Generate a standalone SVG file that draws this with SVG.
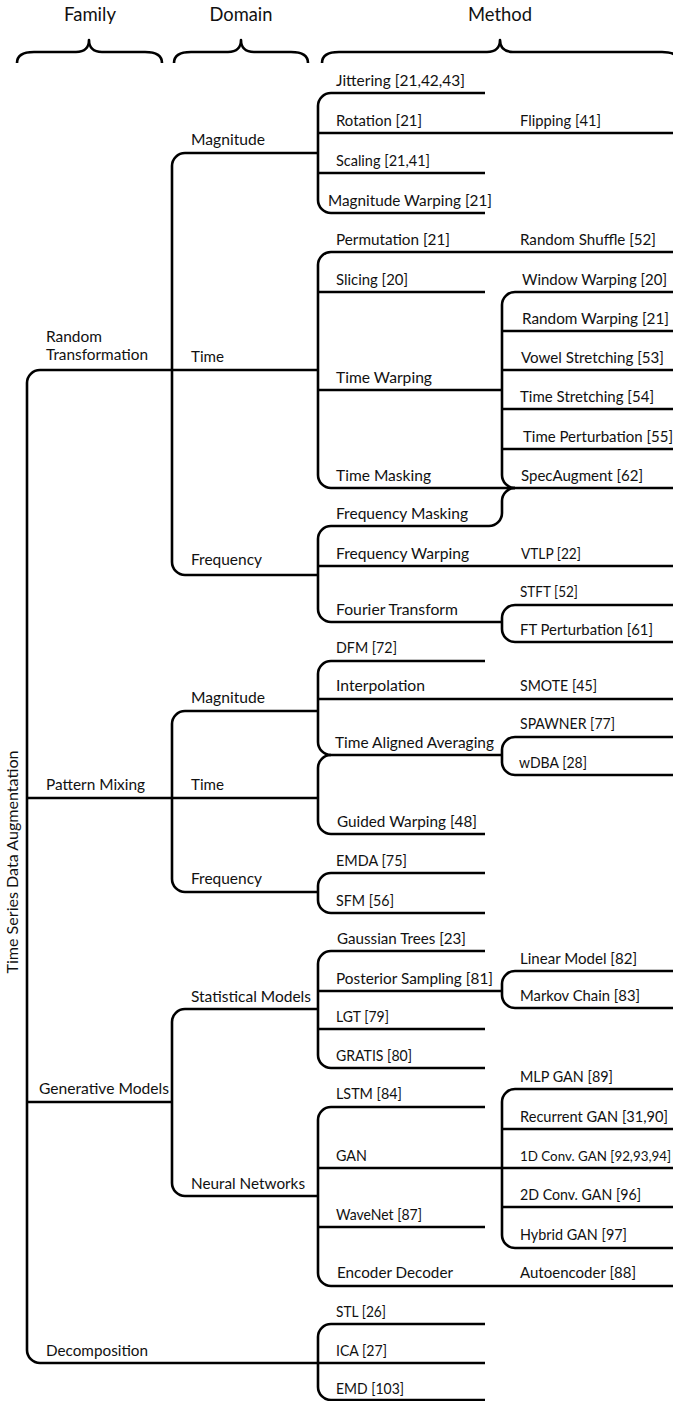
<svg xmlns="http://www.w3.org/2000/svg" width="673" height="1401" viewBox="0 0 673 1401">
<style>
text{font-family:Lato,"Liberation Sans",sans-serif;fill:#111}
.t{font-size:15px}
.h{font-size:18.5px;text-anchor:middle}
.c{fill:none;stroke:#000;stroke-width:2.6;stroke-linecap:butt;stroke-linejoin:round}
</style>
<rect width="673" height="1401" fill="#fff"/>
<g id="headers">
<text class="h" x="90" y="21" textLength="52" lengthAdjust="spacingAndGlyphs">Family</text>
<text class="h" x="241" y="21" textLength="63" lengthAdjust="spacingAndGlyphs">Domain</text>
<text class="h" x="500" y="21" textLength="64" lengthAdjust="spacingAndGlyphs">Method</text>
<path class="c" d="M17,63 C17,55 24,52 34,52 L76,52 C85,52 89,47 89,40 C89,47 93,52 102,52 L145,52 C155,52 162,55 162,63"/>
<path class="c" d="M174,63 C174,55 181,52 191,52 L228,52 C237,52 241,47 241,40 C241,47 245,52 254,52 L291,52 C301,52 308,55 308,63"/>
<path class="c" d="M322,63 C322,55 329,52 339,52 L487,52 C496,52 500,47 500,40 C500,47 504,52 513,52 L662,52 C672,52 679,55 679,63"/>
</g>
<g id="connectors">
<path class="c" d="M318,370 L40,370 A13,13 0 0 0 27,383 L27,1350 A13,13 0 0 0 40,1363 L485,1363"/>
<path class="c" d="M27,798 L318,798"/>
<path class="c" d="M27,1102 L172,1102"/>
<path class="c" d="M318,153 L185,153 A13,13 0 0 0 172,166 L172,562 A13,13 0 0 0 185,575 L318,575"/>
<path class="c" d="M318,711 L185,711 A13,13 0 0 0 172,724 L172,879 A13,13 0 0 0 185,892 L318,892"/>
<path class="c" d="M318,1009 L185,1009 A13,13 0 0 0 172,1022 L172,1183 A13,13 0 0 0 185,1196 L318,1196"/>
<path class="c" d="M485,93 L331,93 A13,13 0 0 0 318,106 L318,200 A13,13 0 0 0 331,213 L485,213"/>
<path class="c" d="M318,133 L673,133 M318,173 L485,173"/>
<path class="c" d="M673,252 L331,252 A13,13 0 0 0 318,265 L318,475 A13,13 0 0 0 331,488 L673,488"/>
<path class="c" d="M318,292 L485,292 M318,390 L502,390"/>
<path class="c" d="M673,292 L515,292 A13,13 0 0 0 502,305 L502,475 A13,13 0 0 0 515,488"/>
<path class="c" d="M502,331 L673,331 M502,370 L673,370 M502,409 L673,409 M502,449 L673,449"/>
<path class="c" d="M515,488 A13,13 0 0 0 502,501 L502,513 A13,13 0 0 1 489,526 L331,526 A13,13 0 0 0 318,539 L318,609 A13,13 0 0 0 331,622 L502,622"/>
<path class="c" d="M318,566 L673,566"/>
<path class="c" d="M673,605 L515,605 A13,13 0 0 0 502,618 L502,629 A13,13 0 0 0 515,642 L673,642"/>
<path class="c" d="M485,661 L331,661 A13,13 0 0 0 318,674 L318,742 A13,13 0 0 0 331,755 L502,755"/>
<path class="c" d="M318,699 L673,699"/>
<path class="c" d="M331,755 A13,13 0 0 0 318,768 L318,821 A13,13 0 0 0 331,834 L485,834"/>
<path class="c" d="M673,737 L515,737 A13,13 0 0 0 502,750 L502,762 A13,13 0 0 0 515,775 L673,775"/>
<path class="c" d="M485,873 L331,873 A13,13 0 0 0 318,886 L318,900 A13,13 0 0 0 331,913 L485,913"/>
<path class="c" d="M485,951 L331,951 A13,13 0 0 0 318,964 L318,1055 A13,13 0 0 0 331,1068 L485,1068"/>
<path class="c" d="M318,991 L502,991 M318,1029 L485,1029"/>
<path class="c" d="M673,971 L515,971 A13,13 0 0 0 502,984 L502,995 A13,13 0 0 0 515,1008 L673,1008"/>
<path class="c" d="M485,1107 L331,1107 A13,13 0 0 0 318,1120 L318,1273 A13,13 0 0 0 331,1286 L673,1286"/>
<path class="c" d="M318,1168 L673,1168 M318,1227 L485,1227"/>
<path class="c" d="M673,1089 L515,1089 A13,13 0 0 0 502,1102 L502,1235 A13,13 0 0 0 515,1248 L673,1248"/>
<path class="c" d="M502,1129 L673,1129 M502,1207 L673,1207"/>
<path class="c" d="M485,1324 L331,1324 A13,13 0 0 0 318,1337 L318,1387 A13,13 0 0 0 331,1400 L485,1400"/>
</g>
<g id="root"><text class="t" transform="translate(18,862) rotate(-90)" text-anchor="middle" textLength="223" lengthAdjust="spacingAndGlyphs">Time Series Data Augmentation</text></g>
<g id="fam-random-transformation"><text class="t" x="46" y="342" textLength="56" lengthAdjust="spacingAndGlyphs">Random</text><text class="t" x="46" y="360" textLength="102" lengthAdjust="spacingAndGlyphs">Transformation</text></g>
<g id="fam-pattern-mixing"><text class="t" x="46" y="790" textLength="99" lengthAdjust="spacingAndGlyphs">Pattern Mixing</text></g>
<g id="fam-generative-models"><text class="t" x="39" y="1094" textLength="130" lengthAdjust="spacingAndGlyphs">Generative Models</text></g>
<g id="fam-decomposition"><text class="t" x="46" y="1356" textLength="102" lengthAdjust="spacingAndGlyphs">Decomposition</text></g>
<g id="dom-rt-magnitude"><text class="t" x="191" y="145" textLength="74" lengthAdjust="spacingAndGlyphs">Magnitude</text></g>
<g id="dom-rt-time"><text class="t" x="191" y="362" textLength="33" lengthAdjust="spacingAndGlyphs">Time</text></g>
<g id="dom-rt-frequency"><text class="t" x="191" y="565" textLength="71" lengthAdjust="spacingAndGlyphs">Frequency</text></g>
<g id="dom-pm-magnitude"><text class="t" x="191" y="703" textLength="74" lengthAdjust="spacingAndGlyphs">Magnitude</text></g>
<g id="dom-pm-time"><text class="t" x="191" y="790" textLength="33" lengthAdjust="spacingAndGlyphs">Time</text></g>
<g id="dom-pm-frequency"><text class="t" x="191" y="884" textLength="71" lengthAdjust="spacingAndGlyphs">Frequency</text></g>
<g id="dom-statistical-models"><text class="t" x="191" y="1002" textLength="120" lengthAdjust="spacingAndGlyphs">Statistical Models</text></g>
<g id="dom-neural-networks"><text class="t" x="191" y="1189" textLength="114" lengthAdjust="spacingAndGlyphs">Neural Networks</text></g>
<g id="m-jittering"><text class="t" x="336" y="86" textLength="129" lengthAdjust="spacingAndGlyphs">Jittering [21,42,43]</text></g>
<g id="m-rotation"><text class="t" x="336" y="126" textLength="86" lengthAdjust="spacingAndGlyphs">Rotation [21]</text></g>
<g id="m-flipping"><text class="t" x="520" y="126" textLength="81" lengthAdjust="spacingAndGlyphs">Flipping [41]</text></g>
<g id="m-scaling"><text class="t" x="336" y="166" textLength="94" lengthAdjust="spacingAndGlyphs">Scaling [21,41]</text></g>
<g id="m-magnitude-warping"><text class="t" x="328" y="206" textLength="164" lengthAdjust="spacingAndGlyphs">Magnitude Warping [21]</text></g>
<g id="m-permutation"><text class="t" x="336" y="245" textLength="114" lengthAdjust="spacingAndGlyphs">Permutation [21]</text></g>
<g id="m-random-shuffle"><text class="t" x="520" y="245" textLength="136" lengthAdjust="spacingAndGlyphs">Random Shuffle [52]</text></g>
<g id="m-slicing"><text class="t" x="336" y="285" textLength="72" lengthAdjust="spacingAndGlyphs">Slicing [20]</text></g>
<g id="m-window-warping"><text class="t" x="522" y="285" textLength="145" lengthAdjust="spacingAndGlyphs">Window Warping [20]</text></g>
<g id="m-random-warping"><text class="t" x="522" y="324" textLength="147" lengthAdjust="spacingAndGlyphs">Random Warping [21]</text></g>
<g id="m-vowel-stretching"><text class="t" x="521" y="363" textLength="143" lengthAdjust="spacingAndGlyphs">Vowel Stretching [53]</text></g>
<g id="m-time-warping"><text class="t" x="336" y="383" textLength="96" lengthAdjust="spacingAndGlyphs">Time Warping</text></g>
<g id="m-time-stretching"><text class="t" x="520" y="402" textLength="134" lengthAdjust="spacingAndGlyphs">Time Stretching [54]</text></g>
<g id="m-time-perturbation"><text class="t" x="523" y="442" textLength="150" lengthAdjust="spacingAndGlyphs">Time Perturbation [55]</text></g>
<g id="m-time-masking"><text class="t" x="336" y="481" textLength="95" lengthAdjust="spacingAndGlyphs">Time Masking</text></g>
<g id="m-specaugment"><text class="t" x="521" y="481" textLength="122" lengthAdjust="spacingAndGlyphs">SpecAugment [62]</text></g>
<g id="m-frequency-masking"><text class="t" x="336" y="519" textLength="132" lengthAdjust="spacingAndGlyphs">Frequency Masking</text></g>
<g id="m-frequency-warping"><text class="t" x="336" y="559" textLength="133" lengthAdjust="spacingAndGlyphs">Frequency Warping</text></g>
<g id="m-vtlp"><text class="t" x="521" y="559" textLength="60" lengthAdjust="spacingAndGlyphs">VTLP [22]</text></g>
<g id="m-stft"><text class="t" x="520" y="597" textLength="58" lengthAdjust="spacingAndGlyphs">STFT [52]</text></g>
<g id="m-fourier-transform"><text class="t" x="336" y="615" textLength="122" lengthAdjust="spacingAndGlyphs">Fourier Transform</text></g>
<g id="m-ft-perturbation"><text class="t" x="520" y="635" textLength="133" lengthAdjust="spacingAndGlyphs">FT Perturbation [61]</text></g>
<g id="m-dfm"><text class="t" x="336" y="653" textLength="61" lengthAdjust="spacingAndGlyphs">DFM [72]</text></g>
<g id="m-interpolation"><text class="t" x="336" y="691" textLength="89" lengthAdjust="spacingAndGlyphs">Interpolation</text></g>
<g id="m-smote"><text class="t" x="520" y="691" textLength="77" lengthAdjust="spacingAndGlyphs">SMOTE [45]</text></g>
<g id="m-spawner"><text class="t" x="520" y="729" textLength="95" lengthAdjust="spacingAndGlyphs">SPAWNER [77]</text></g>
<g id="m-time-aligned-averaging"><text class="t" x="335" y="748" textLength="159" lengthAdjust="spacingAndGlyphs">Time Aligned Averaging</text></g>
<g id="m-wdba"><text class="t" x="519" y="768" textLength="68" lengthAdjust="spacingAndGlyphs">wDBA [28]</text></g>
<g id="m-guided-warping"><text class="t" x="337" y="827" textLength="140" lengthAdjust="spacingAndGlyphs">Guided Warping [48]</text></g>
<g id="m-emda"><text class="t" x="336" y="866" textLength="71" lengthAdjust="spacingAndGlyphs">EMDA [75]</text></g>
<g id="m-sfm"><text class="t" x="336" y="906" textLength="58" lengthAdjust="spacingAndGlyphs">SFM [56]</text></g>
<g id="m-gaussian-trees"><text class="t" x="337" y="944" textLength="129" lengthAdjust="spacingAndGlyphs">Gaussian Trees [23]</text></g>
<g id="m-posterior-sampling"><text class="t" x="336" y="984" textLength="157" lengthAdjust="spacingAndGlyphs">Posterior Sampling [81]</text></g>
<g id="m-linear-model"><text class="t" x="520" y="964" textLength="117" lengthAdjust="spacingAndGlyphs">Linear Model [82]</text></g>
<g id="m-markov-chain"><text class="t" x="520" y="1001" textLength="120" lengthAdjust="spacingAndGlyphs">Markov Chain [83]</text></g>
<g id="m-lgt"><text class="t" x="336" y="1022" textLength="53" lengthAdjust="spacingAndGlyphs">LGT [79]</text></g>
<g id="m-gratis"><text class="t" x="336" y="1061" textLength="76" lengthAdjust="spacingAndGlyphs">GRATIS [80]</text></g>
<g id="m-lstm"><text class="t" x="336" y="1099" textLength="66" lengthAdjust="spacingAndGlyphs">LSTM [84]</text></g>
<g id="m-mlp-gan"><text class="t" x="520" y="1082" textLength="93" lengthAdjust="spacingAndGlyphs">MLP GAN [89]</text></g>
<g id="m-recurrent-gan"><text class="t" x="520" y="1122" textLength="148" lengthAdjust="spacingAndGlyphs">Recurrent GAN [31,90]</text></g>
<g id="m-gan"><text class="t" x="336" y="1161" textLength="31" lengthAdjust="spacingAndGlyphs">GAN</text></g>
<g id="m-1d-conv-gan"><text class="t" x="520" y="1161" textLength="151" lengthAdjust="spacingAndGlyphs" style="font-size:13.5px">1D Conv. GAN [92,93,94]</text></g>
<g id="m-2d-conv-gan"><text class="t" x="520" y="1200" textLength="121" lengthAdjust="spacingAndGlyphs">2D Conv. GAN [96]</text></g>
<g id="m-wavenet"><text class="t" x="336" y="1220" textLength="86" lengthAdjust="spacingAndGlyphs">WaveNet [87]</text></g>
<g id="m-hybrid-gan"><text class="t" x="520" y="1240" textLength="107" lengthAdjust="spacingAndGlyphs">Hybrid GAN [97]</text></g>
<g id="m-encoder-decoder"><text class="t" x="337" y="1278" textLength="116" lengthAdjust="spacingAndGlyphs">Encoder Decoder</text></g>
<g id="m-autoencoder"><text class="t" x="520" y="1278" textLength="116" lengthAdjust="spacingAndGlyphs">Autoencoder [88]</text></g>
<g id="m-stl"><text class="t" x="336" y="1317" textLength="50" lengthAdjust="spacingAndGlyphs">STL [26]</text></g>
<g id="m-ica"><text class="t" x="336" y="1356" textLength="51" lengthAdjust="spacingAndGlyphs">ICA [27]</text></g>
<g id="m-emd"><text class="t" x="336" y="1394" textLength="68" lengthAdjust="spacingAndGlyphs">EMD [103]</text></g>
</svg>
